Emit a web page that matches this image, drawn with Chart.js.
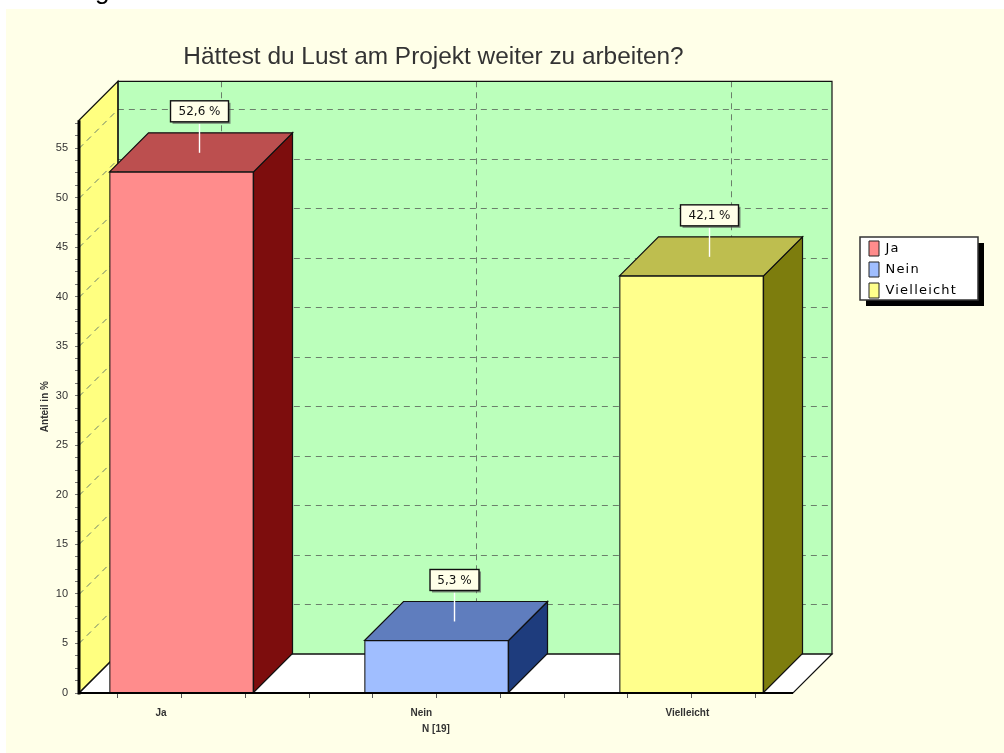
<!DOCTYPE html>
<html><head><meta charset="utf-8">
<style>html,body{margin:0;padding:0;background:#fff;overflow:hidden}
#w{position:absolute;left:0;top:0;width:1004px;height:753px;overflow:hidden}
#h{position:absolute;left:95px;top:-25px;font:26px "Liberation Sans";color:#000}
canvas{position:absolute;left:0;top:0}</style>
<script src="https://cdn.jsdelivr.net/npm/chart.js@4"></script></head>
<body><div id="w"><canvas id="c" width="1004" height="753"></canvas><div id="h">g</div></div>
<script>
const categories=['Ja','Nein','Vielleicht'];
const values=[52.6,5.3,42.1];
const valueLabels=['52,6 %','5,3 %','42,1 %'];
const frontColors=['#FF8C8C','#A0BEFF','#FFFF8C'];
const topColors=['#BC4F4F','#5F7DBE','#BEBE4F'];
const sideColors=['#7D0D0D','#1E3C7D','#7D7D0D'];
const titleText='Hättest du Lust am Projekt weiter zu arbeiten?';
const yTitle='Anteil in %';
const xTitle='N [19]';
const DEPTH=39;

function poly(ctx,pts,fill,stroke,lw){
  ctx.beginPath();pts.forEach((p,i)=>i?ctx.lineTo(p[0],p[1]):ctx.moveTo(p[0],p[1]));ctx.closePath();
  if(fill){ctx.fillStyle=fill;ctx.fill();}
  if(stroke){ctx.strokeStyle=stroke;ctx.lineWidth=lw||1;ctx.stroke();}
}
const frame={x:860,y:237,w:118,h:63};
const scene={
  id:'scene',
  beforeDraw(chart){
    const c=chart.ctx,W=chart.width,H=chart.height;
    c.save();
    c.fillStyle='#FFFFE8';c.fillRect(6,9,W-6,H-9);
    c.fillStyle='#000';c.fillRect(frame.x+6,frame.y+6,frame.w,frame.h);
    c.fillStyle='#fff';c.fillRect(frame.x,frame.y,frame.w,frame.h);
    c.strokeStyle='#333';c.lineWidth=1.5;c.strokeRect(frame.x,frame.y,frame.w,frame.h);
    c.restore();
  },
  beforeDatasetsDraw(chart){
    const c=chart.ctx,a=chart.chartArea,x=chart.scales.x,y=chart.scales.y,d=DEPTH;
    const l=a.left,r=a.right,t=a.top,b=a.bottom;
    c.save();
    poly(c,[[l+d,t-d],[r+d,t-d],[r+d,b-d],[l+d,b-d]],'#BBFFBB');
    poly(c,[[l,t],[l+d,t-d],[l+d,b-d],[l,b]],'#FFFF80');
    poly(c,[[l,b],[l+d,b-d],[r+d,b-d],[r,b]],'#FFFFFF');
    c.strokeStyle='#6b806b';c.lineWidth=1;c.setLineDash([6,5]);
    y.ticks.forEach(k=>{
      if(k.value===0||k.value%5!==0)return;
      const p=Math.round(y.getPixelForValue(k.value))+.5;
      c.beginPath();c.moveTo(l,p);c.lineTo(l+d,p-d);c.lineTo(r+d,p-d);c.stroke();
    });
    x.ticks.forEach(k=>{
      if(!Number.isInteger(k.value))return;
      const p=Math.round(x.getPixelForValue(k.value))+d+.5;
      c.beginPath();c.moveTo(p,t-d);c.lineTo(p,b-d);c.stroke();
    });
    c.setLineDash([]);
    poly(c,[[l+d,t-d],[r+d,t-d],[r+d,b-d],[l+d,b-d]],null,'#111',1.2);
    poly(c,[[l,t],[l+d,t-d],[l+d,b-d],[l,b]],null,'#111',1.2);
    poly(c,[[l,b],[l+d,b-d],[r+d,b-d],[r,b]],null,'#111',1.2);
    chart.getDatasetMeta(0).data.forEach((e,i)=>{
      const x0=e.x-e.width/2,x1=e.x+e.width/2,top=e.y,bot=e.base;
      poly(c,[[x1,top],[x1+d,top-d],[x1+d,bot-d],[x1,bot]],sideColors[i],'#111',1.2);
      poly(c,[[x0,top],[x0+d,top-d],[x1+d,top-d],[x1,top]],topColors[i],'#111',1.2);
    });
    c.restore();
  },
  afterDatasetsDraw(chart){
    const c=chart.ctx,a=chart.chartArea;
    c.save();
    c.strokeStyle='#000';c.lineCap='butt';
    c.lineWidth=3;c.beginPath();c.moveTo(a.left,a.top);c.lineTo(a.left,a.bottom+1.5);c.stroke();
    c.lineWidth=2;c.beginPath();c.moveTo(a.left,a.bottom);c.lineTo(a.right,a.bottom);c.stroke();
    chart.getDatasetMeta(0).data.forEach((e,i)=>{
      const lx=e.x+18,ty=e.y;
      c.strokeStyle='#fff';c.lineWidth=1.4;
      c.beginPath();c.moveTo(lx,ty-48);c.lineTo(lx,ty-19);c.stroke();
      c.font='12px "DejaVu Sans"';
      const w=i===1?49:58,h=21,bx=lx-w/2,by=ty-71;
      c.fillStyle='rgba(90,90,90,.7)';c.fillRect(bx+2,by+2,w,h);
      c.fillStyle='#FFFFE8';c.fillRect(bx,by,w,h);
      c.strokeStyle='#111';c.lineWidth=1.4;c.strokeRect(bx,by,w,h);
      c.fillStyle='#111';c.textAlign='center';c.textBaseline='middle';
      c.fillText(valueLabels[i],bx+w/2,by+h/2+.5);
    });
    c.restore();
  },
  afterLayout(chart){
    const L=chart.legend;
    L.left=863;L.top=235;L.right=978;L.bottom=330;L.width=115;L.height=95;
    const T=chart.titleBlock;
    if(!T._moved){T._moved=true;T.left+=37;T.right+=37;}
    if(!L._wrapped){
      L._wrapped=true;
      const orig=L.draw.bind(L);
      L.draw=function(){
        const g=chart.ctx,old=g.letterSpacing;
        g.letterSpacing='1.2px';orig();g.letterSpacing=old;
      };
    }
  }
};
new Chart(document.getElementById('c'),{
  type:'bar',
  data:{datasets:[{
    label:'Anteil',
    data:values.map((v,i)=>({x:i,y:v})),
    backgroundColor:frontColors,
    borderColor:'#111',borderWidth:1.2,
    barThickness:144
  }]},
  plugins:[scene],
  options:{
    responsive:false,animation:false,
    layout:{padding:{left:0,right:211,top:0,bottom:0}},
    plugins:{
      title:{display:true,text:titleText,color:'#333',font:{family:'"Liberation Sans"',size:24.4,weight:'normal'},padding:{top:43,bottom:48}},
      tooltip:{enabled:false},
      legend:{
        display:true,position:'chartArea',align:'start',
        labels:{
          color:'#111',font:{family:'"DejaVu Sans"',size:13},
          boxWidth:10,boxHeight:15,padding:6,
          generateLabels:()=>categories.map((t,i)=>({text:t,fillStyle:frontColors[i],strokeStyle:'#222',lineWidth:1,hidden:false,index:i}))
        }
      }
    },
    scales:{
      x:{
        type:'linear',offset:false,min:-0.402,max:2.398,
        afterBuildTicks(s){const o=[];for(let i=-1;i<=9;i++){o.push({value:i*0.25});}s.ticks=o;},
        grid:{display:true,offset:false,drawOnChartArea:false,tickLength:5,color:'#555'},
        border:{display:false},
        ticks:{autoSkip:false,maxRotation:0,align:'start',labelOffset:-26,color:'#333',font:{family:'"Liberation Sans"',size:10,weight:'bold'},padding:9,
          callback:v=>Number.isInteger(v)?categories[v]:''},
        title:{display:true,text:xTitle,color:'#333',font:{family:'"Liberation Sans"',size:10,weight:'bold'},padding:{top:2,bottom:18}},
        afterFit(s){s.height=60;}
      },
      y:{
        type:'linear',min:0,max:57.8,
        afterBuildTicks(s){const o=[];for(let i=0;i<=46;i++){o.push({value:i*1.25});}s.ticks=o;},
        grid:{display:true,drawOnChartArea:false,tickLength:4,color:'#777'},
        border:{display:false},
        ticks:{autoSkip:false,color:'#333',font:{family:'"Liberation Sans"',size:11},padding:7,
          callback:v=>(v%5===0)?String(v):''},
        title:{display:true,text:yTitle,color:'#333',font:{family:'"Liberation Sans"',size:10,weight:'bold'},padding:{top:39,bottom:8}},
        afterFit(s){s.width=79;}
      }
    }
  }
});
</script></body></html>
